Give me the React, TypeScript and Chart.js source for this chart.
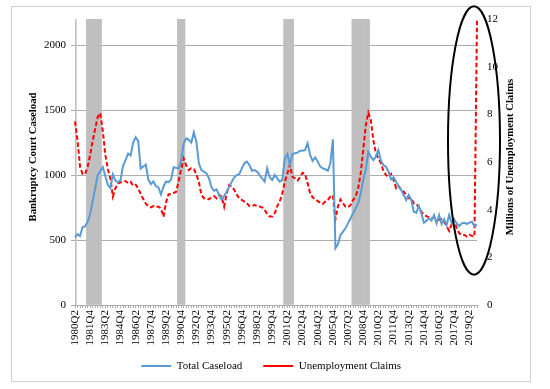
import React, { useEffect, useRef } from 'react';
import { Chart, registerables } from 'chart.js';

Chart.register(...registerables);

// ---------- DATA ----------
const START_YEAR = 1980;
const START_QUARTER = 2;
const QUARTER_COUNT = 160; // 1980Q2 .. 2020Q1

const quarters: string[] = [];
for (let k = 0; k < QUARTER_COUNT; k++) {
  const n = START_QUARTER - 1 + k;
  quarters.push(`${START_YEAR + Math.floor(n / 4)}Q${(n % 4) + 1}`);
}

// Bankruptcy court caseload (left axis)
const totalCaseload = [
  520, 545, 530, 600, 605, 640, 700, 800, 900, 1000,
  1030, 1060, 990, 925, 900, 1005, 955, 945, 960, 1070,
  1115, 1165, 1150, 1250, 1290, 1260, 1050, 1065, 1080, 965,
  930, 950, 915, 905, 850, 910, 950, 945, 965, 1060,
  1055, 1050, 1115, 1244, 1282, 1270, 1249, 1328, 1256, 1090,
  1038, 1026, 1013, 974, 905, 879, 890, 846, 808, 838,
  872, 910, 949, 982, 1000, 1008, 1051, 1090, 1103, 1077,
  1033, 1038, 1026, 1000, 974, 949, 1051, 982, 962, 1000,
  974, 949, 962, 1128, 1162, 1077, 1162, 1167, 1172, 1187,
  1187, 1192, 1244, 1154, 1108, 1136, 1103, 1064, 1051, 1044,
  1033, 1090, 1274, 436, 469, 538, 564, 590, 628, 667,
  705, 744, 782, 859, 962, 1038, 1179, 1141, 1115, 1141,
  1192, 1110, 1077, 1064, 1026, 967, 982, 949, 910, 885,
  846, 808, 846, 808, 718, 710, 762, 705, 633, 649,
  667, 649, 692, 628, 692, 623, 659, 615, 692, 628,
  654, 628, 608, 628, 633, 623, 633, 641, 608, 615,
];

// Unemployment claims, millions (right axis)
const unemploymentClaims = [
  7.7, 6.9, 5.8, 5.5, 5.5, 5.8, 6.3, 6.9, 7.4, 7.9,
  8.05, 7.3, 6.3, 5.7, 5.3, 4.55, 4.9, 5.1, 5.15, 5.15,
  5.2, 5.12, 5.17, 5.0, 5.05, 4.9, 4.65, 4.45, 4.25, 4.15,
  4.1, 4.15, 4.1, 4.13, 4.05, 3.7, 4.3, 4.65, 4.65, 4.7,
  4.75, 5.2, 5.7, 6.15, 5.85, 5.66, 5.74, 5.7, 5.5, 5.15,
  4.62, 4.48, 4.48, 4.43, 4.52, 4.57, 4.48, 4.62, 4.55, 4.13,
  4.69, 5.04, 4.97, 4.83, 4.62, 4.48, 4.41, 4.34, 4.27, 4.15,
  4.15, 4.2, 4.15, 4.13, 4.1, 3.99, 3.82, 3.71, 3.71, 3.85,
  4.15, 4.34, 4.69, 5.17, 5.53, 5.88, 5.38, 5.32, 5.22, 5.36,
  5.55, 5.5, 5.11, 4.69, 4.52, 4.43, 4.36, 4.29, 4.24, 4.34,
  4.41, 4.55, 4.6, 3.6, 4.13, 4.43, 4.27, 4.13, 4.1, 4.2,
  4.41, 4.55, 4.9, 5.53, 6.5, 7.55, 8.07, 7.76, 6.92, 6.37,
  6.15, 5.95, 5.62, 5.46, 5.36, 5.5, 5.25, 4.9, 4.99, 4.83,
  4.76, 4.62, 4.48, 4.48, 4.27, 4.24, 4.1, 3.92, 3.78, 3.73,
  3.68, 3.64, 3.68, 3.6, 3.57, 3.6, 3.5, 3.29, 3.11, 3.4,
  3.57, 3.22, 3.01, 2.94, 2.94, 2.87, 2.94, 2.9, 2.87, 12,
];

// NBER recession quarters (shaded bars)
const recessionQuarters = [
  '1980Q2',
  '1981Q3', '1981Q4', '1982Q1', '1982Q2', '1982Q3', '1982Q4',
  '1990Q3', '1990Q4', '1991Q1',
  '2001Q1', '2001Q2', '2001Q3', '2001Q4',
  '2007Q4', '2008Q1', '2008Q2', '2008Q3', '2008Q4', '2009Q1', '2009Q2',
];

const LEFT_MAX = 2200;
const leftTicks = [0, 500, 1000, 1500, 2000];
const RIGHT_MAX = 12;
const rightTicks = [0, 2, 4, 6, 8, 10, 12];
const LABEL_EVERY = 6;

const leftTitle = 'Bankruptcy Court Caseload';
const rightTitle = 'Millions of Unemployment Claims';
const seriesNames = ['Total Caseload', 'Unemployment Claims'];

// ---------- STYLE ----------
const FONT = "'Liberation Serif', 'Times New Roman', serif";
const GRID = '#ADADAD';
const BAR_GRAY = '#BFBFBF';
const BLUE = '#5B9BD5';
const RED = '#FF0000';

const decorPlugin = {
  id: 'decor',
  afterLayout(chart: any) {
    const lg = chart.legend;
    if (lg) {
      const shift = -7.5;
      lg.top += shift;
      lg.bottom += shift;
    }
  },
  beforeDraw(chart: any) {
    const { ctx, width, height } = chart;
    ctx.save();
    ctx.fillStyle = '#ffffff';
    ctx.fillRect(0, 0, width, height);
    ctx.strokeStyle = '#D0D0D0';
    ctx.lineWidth = 1;
    ctx.strokeRect(11.5, 6.5, 519, 375);
    ctx.restore();
  },
  afterDraw(chart: any) {
    const { ctx, chartArea } = chart;
    const cy = (chartArea.top + chartArea.bottom) / 2 - 5;
    ctx.save();
    ctx.font = `bold 10.7px ${FONT}`;
    ctx.fillStyle = '#000';
    ctx.textAlign = 'center';
    ctx.textBaseline = 'middle';
    ctx.save();
    ctx.translate(chartArea.left - 42, cy);
    ctx.rotate(-Math.PI / 2);
    ctx.fillText(leftTitle, 0, 0);
    ctx.restore();
    ctx.save();
    ctx.translate(chartArea.right + 33, cy);
    ctx.rotate(-Math.PI / 2);
    ctx.fillText(rightTitle, 0, 0);
    ctx.restore();

    // highlight ellipse around the final spike
    const xs = chart.scales.x;
    const y1 = chart.scales.y1;
    const ex = xs.getPixelForValue(quarters.length - 1) - 3;
    const ecy = y1.getPixelForValue(6.9);
    const ery = y1.getPixelForValue(1.27) - ecy;
    ctx.beginPath();
    ctx.ellipse(ex, ecy, 26, ery, 0, 0, Math.PI * 2);
    ctx.strokeStyle = '#000';
    ctx.lineWidth = 2;
    ctx.stroke();
    ctx.restore();
  },
};

export default function App() {
  const ref = useRef<HTMLCanvasElement>(null);

  useEffect(() => {
    const canvas = ref.current;
    if (!canvas) return;
    const recessionData = quarters.map((q) => (recessionQuarters.includes(q) ? LEFT_MAX : null));

    const chart = new Chart(canvas, {
      type: 'line',
      data: {
        labels: quarters,
        datasets: [
          {
            type: 'bar',
            label: 'Recession',
            data: recessionData as any,
            yAxisID: 'y',
            backgroundColor: BAR_GRAY,
            borderWidth: 0,
            barPercentage: 1,
            categoryPercentage: 1,
            order: 3,
          } as any,
          {
            type: 'line',
            label: seriesNames[0],
            data: totalCaseload,
            yAxisID: 'y',
            borderColor: BLUE,
            backgroundColor: BLUE,
            borderWidth: 2,
            pointRadius: 0,
            tension: 0,
            order: 1,
          },
          {
            type: 'line',
            label: seriesNames[1],
            data: unemploymentClaims,
            yAxisID: 'y1',
            borderColor: RED,
            backgroundColor: RED,
            borderWidth: 2,
            borderDash: [4.5, 2.5],
            pointRadius: 0,
            tension: 0,
            order: 2,
          },
        ],
      },
      options: {
        responsive: false,
        devicePixelRatio: 1,
        animation: false,
        layout: { padding: { left: 0, right: 7.6, top: 19, bottom: 0 } },
        plugins: {
          tooltip: { enabled: false },
          title: { display: false },
          legend: {
            position: 'bottom',
            labels: {
              usePointStyle: true,
              pointStyle: 'line',
              pointStyleWidth: 30,
              boxHeight: 11,
              padding: 21,
              color: '#000',
              font: { family: FONT, size: 11 },
              filter: (item: any) => item.text !== 'Recession',
            },
          },
        },
        scales: {
          x: {
            type: 'category',
            offset: false,
            grid: {
              display: true,
              drawOnChartArea: false,
              drawTicks: true,
              tickLength: 3,
              color: GRID,
              offset: false,
            },
            border: { display: true, color: GRID, width: 1 },
            ticks: {
              autoSkip: false,
              maxRotation: 90,
              minRotation: 90,
              padding: 2,
              color: '#000',
              font: { family: FONT, size: 11 },
              callback: (_v: any, i: number) => (i % LABEL_EVERY === 0 ? quarters[i] : ''),
            },
            afterFit: (s: any) => {
              s.height = 42;
            },
          },
          y: {
            position: 'left',
            min: 0,
            max: LEFT_MAX,
            grid: { color: GRID, drawTicks: true, tickLength: 4 },
            border: { display: true, color: GRID, width: 1 },
            ticks: {
              padding: 5,
              color: '#000',
              font: { family: FONT, size: 11 },
              callback: (v: any) => String(v),
            },
            afterBuildTicks: (s: any) => {
              s.ticks = leftTicks.map((v) => ({ value: v }));
            },
            afterFit: (s: any) => {
              s.width = 75;
            },
          },
          y1: {
            position: 'right',
            min: 0,
            max: RIGHT_MAX,
            grid: { drawOnChartArea: false, drawTicks: false },
            border: { display: false },
            ticks: {
              padding: 10,
              color: '#000',
              font: { family: FONT, size: 11 },
              callback: (v: any) => String(v),
            },
            afterBuildTicks: (s: any) => {
              s.ticks = rightTicks.map((v) => ({ value: v }));
            },
            afterFit: (s: any) => {
              s.width = 65.4;
            },
          },
        },
      } as any,
      plugins: [decorPlugin],
    });

    return () => chart.destroy();
  }, []);

  return (
    <div style={{ position: 'absolute', left: 0, top: 0, width: 550, height: 389, background: '#fff' }}>
      <canvas ref={ref} width={550} height={389} style={{ display: 'block', width: 550, height: 389 }} />
    </div>
  );
}
